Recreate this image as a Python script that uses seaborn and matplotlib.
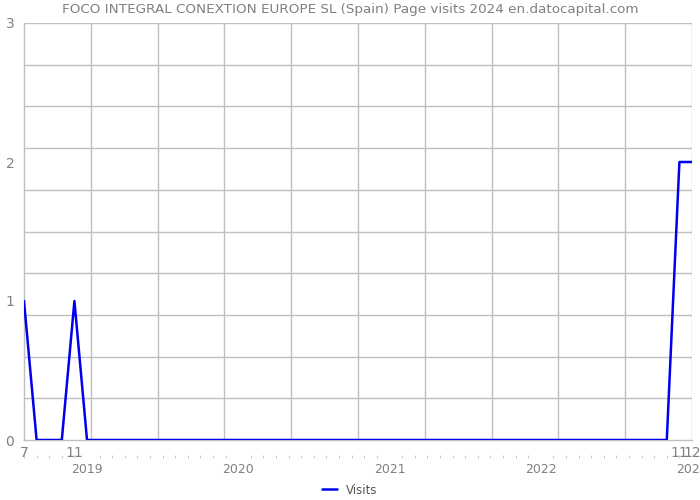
import numpy as np
import pandas as pd
import matplotlib
matplotlib.use("Agg")
import matplotlib.pyplot as plt
import seaborn as sns

# Monthly visits, July 2018 .. Dec 2022
month_index = list(range(54))
visits = [1, 0, 0, 0, 1] + [0] * 47 + [2, 2]
month_tick_pos = [0, 4, 52, 53]
month_tick_labels = ["7", "11", "11", "12"]
year_tick_pos = [5, 17, 29, 41, 53]
year_tick_labels = ["2019", "2020", "2021", "2022", "2023"]
y_ticks = [0, 1, 2, 3]

df = pd.DataFrame({"month": month_index, "Visits": visits})

sns.set_style("white")
plt.rcParams['font.family'] = ['DejaVu Sans']
grey = "#808080"
gridc = "#c0c0c0"

fig = plt.figure(figsize=(7, 5), dpi=100)
ax = fig.add_axes([24 / 700, 1 - 440 / 500, (692 - 24) / 700, (440 - 23) / 500])

x0, x1 = 0, 53
for g in np.linspace(x0, x1, 11)[1:]:
    ax.axvline(g, color=gridc, lw=1, zorder=0)
for g in np.linspace(0, 3, 11)[1:]:
    ax.axhline(g, color=gridc, lw=1, zorder=0)

sns.lineplot(data=df, x="month", y="Visits", ax=ax, color="#0000ee", lw=1.8,
             label="Visits", zorder=3)

ax.set_xlim(x0, x1)
ax.set_ylim(0, 3)
ax.set_xlabel("")
ax.set_ylabel("")

for s in ["top", "right"]:
    ax.spines[s].set_visible(False)
for s in ["left", "bottom"]:
    ax.spines[s].set_color(gridc)
    ax.spines[s].set_linewidth(1)

ax.set_xticks(month_tick_pos)
ax.set_xticklabels(month_tick_labels)
ax.set_xticks(month_index, minor=True)
ax.tick_params(axis="x", which="both", length=3, color=gridc, labelcolor=grey,
               labelsize=10, pad=1.5)
ax.set_yticks(y_ticks)
ax.set_yticks(np.arange(0, 3.01, 0.1), minor=True)
ax.tick_params(axis="y", which="major", length=0, labelcolor=grey, labelsize=10, pad=7)
ax.tick_params(axis="y", which="minor", length=2, color=gridc)

sec = ax.secondary_xaxis(-0.043)
sec.spines["bottom"].set_visible(False)
sec.set_xticks(year_tick_pos)
sec.set_xticklabels(year_tick_labels)
sec.set_xticks(month_index, minor=True)
sec.tick_params(axis="x", which="major", length=0, labelcolor=grey, labelsize=9, pad=3.5)
sec.tick_params(axis="x", which="minor", length=2, color=gridc, direction="in")

fig.text(0.5, 1 - 9 / 500,
         "FOCO INTEGRAL CONEXTION EUROPE SL (Spain) Page visits 2024 en.datocapital.com",
         color=grey, fontsize=9.7, ha="center", va="center")

leg = ax.legend(loc="center", bbox_to_anchor=(0.5, 10 / 500), bbox_transform=fig.transFigure,
                frameon=False, fontsize=8.5, handlelength=1.2)
for t in leg.get_texts():
    t.set_color("#555555")

fig.savefig("out.png", dpi=100)
